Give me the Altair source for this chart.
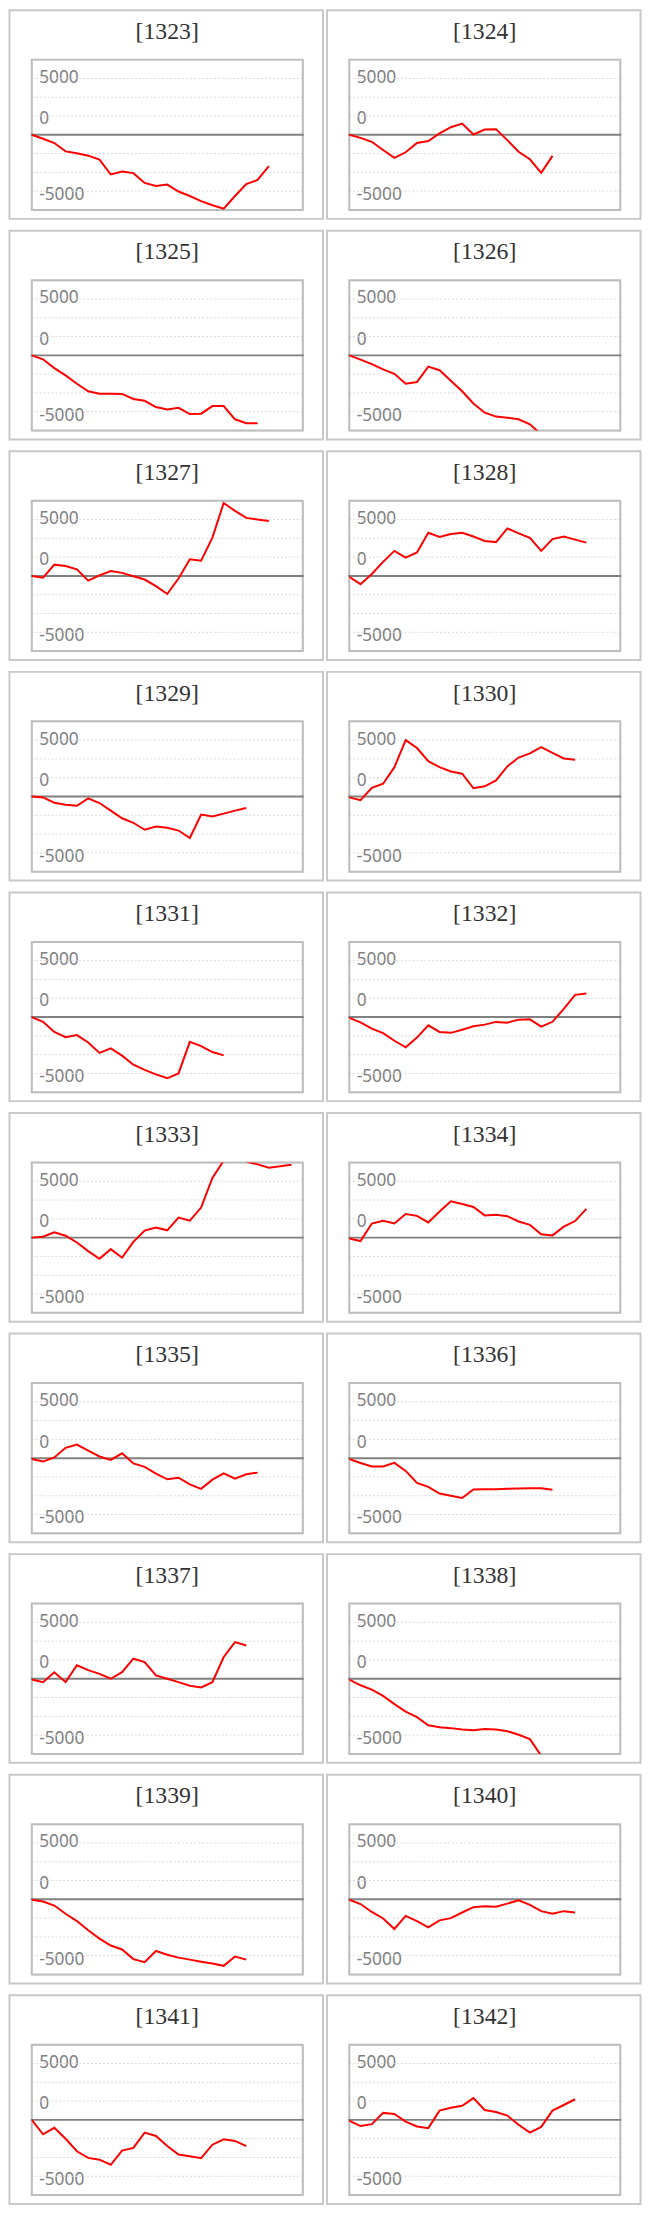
import altair as alt
import pandas as pd

# ---- data (daily P&L per code) ----
codes = ["1323", "1324", "1325", "1326", "1327", "1328", "1329", "1330", "1331", "1332",
         "1333", "1334", "1335", "1336", "1337", "1338", "1339", "1340", "1341", "1342"]

s1323 = [0, -350, -730, -1470, -1630, -1850, -2200, -3520, -3250, -3400, -4270, -4530, -4420,
         -5030, -5430, -5880, -6250, -6550, -5430, -4380, -4000, -2780]
s1324 = [0, -270, -620, -1350, -2050, -1550, -730, -550, 120, 670, 1000, 30, 470, 500, -470,
         -1500, -2170, -3380, -1870]
s1325 = [0, -350, -1130, -1780, -2520, -3180, -3400, -3400, -3420, -3870, -4030, -4580, -4800,
         -4650, -5200, -5170, -4500, -4500, -5670, -6020, -6020]
s1326 = [0, -380, -780, -1250, -1630, -2520, -2370, -1000, -1320, -2250, -3180, -4270, -5080,
         -5430, -5530, -5670, -6120, -7000]
s1327 = [0, -150, 1000, 880, 580, -420, 50, 430, 270, -30, -320, -900, -1600, -230, 1470, 1350,
         3400, 6470, 5770, 5150, 5000, 4880]
s1328 = [-80, -730, 170, 1250, 2220, 1630, 2080, 3830, 3450, 3720, 3830, 3500, 3100, 3000, 4220,
         3770, 3370, 2220, 3270, 3500, 3220, 2950]
s1329 = [0, -80, -550, -730, -820, -170, -580, -1250, -1930, -2330, -2950, -2670, -2780, -3020,
         -3680, -1600, -1780, -1520, -1250, -1020]
s1330 = [-80, -330, 770, 1130, 2600, 5000, 4300, 3130, 2600, 2220, 2020, 730, 900, 1430, 2670,
         3450, 3830, 4380, 3870, 3370, 3250]
s1331 = [0, -420, -1320, -1780, -1600, -2250, -3180, -2780, -3420, -4230, -4680, -5080, -5430,
         -5000, -2200, -2570, -3100, -3400]
s1332 = [-70, -470, -1020, -1430, -2100, -2680, -1820, -730, -1320, -1400, -1120, -820, -670,
         -430, -500, -230, -200, -850, -420, 730, 1970, 2080]
s1333 = [0, 80, 470, 170, -430, -1200, -1870, -1020, -1780, -380, 620, 900, 650, 1780, 1500,
         2670, 5300, 6830, 7500, 6750, 6500, 6200, 6330, 6470]
s1334 = [-70, -300, 1250, 1500, 1250, 2100, 1930, 1350, 2320, 3220, 2980, 2720, 1970, 2020, 1900,
         1430, 1130, 300, 200, 970, 1470, 2550]
s1335 = [-70, -300, 70, 920, 1200, 670, 150, -150, 430, -470, -770, -1370, -1870, -1730, -2330,
         -2720, -1900, -1350, -1820, -1430, -1280]
s1336 = [-70, -430, -730, -730, -420, -1130, -2200, -2550, -3130, -3330, -3530, -2780, -2750,
         -2750, -2720, -2680, -2670, -2670, -2800]
s1337 = [-70, -300, 580, -300, 1200, 770, 430, 0, 580, 1780, 1480, 300, 0, -300, -620, -770,
         -300, 1930, 3250, 2950]
s1338 = [-70, -580, -970, -1520, -2250, -2920, -3400, -4120, -4300, -4380, -4500, -4570, -4450,
         -4500, -4650, -4970, -5350, -6830]
s1339 = [-30, -200, -550, -1280, -1930, -2750, -3480, -4100, -4450, -5300, -5580, -4580, -4920,
         -5170, -5350, -5530, -5700, -5900, -5070, -5350]
s1340 = [-30, -420, -1120, -1700, -2630, -1470, -1930, -2480, -1870, -1670, -1170, -700, -620,
         -650, -380, -80, -500, -1050, -1280, -1050, -1170]
s1341 = [0, -1280, -700, -1670, -2780, -3370, -3530, -3980, -2720, -2480, -1130, -1430, -2320,
         -3070, -3220, -3400, -2200, -1730, -1870, -2330]
s1342 = [-70, -550, -380, 620, 530, -150, -580, -730, 820, 1080, 1250, 1930, 880, 700, 380, -430,
         -1120, -620, 820, 1320, 1830]

series_list = [s1323, s1324, s1325, s1326, s1327, s1328, s1329, s1330, s1331, s1332,
               s1333, s1334, s1335, s1336, s1337, s1338, s1339, s1340, s1341, s1342]

grid_values = [-5000, -3333.3, -1666.7, 1666.7, 3333.3, 5000]
label_positions = [5090, 1430, -5300]
label_texts = ["5000", "0", "-5000"]
y_domain = [-6666.7, 6666.7]
x_domain = [0, 24]

# ---- styling ----
PLOT_W, PLOT_H = 274, 152
RED = "#ff0000"

label_expr = "".join(
    f"abs(datum.value - ({p})) < 1 ? '{t}' : " for p, t in zip(label_positions, label_texts)
) + "''"

y_axis = alt.Axis(
    values=label_positions, labelExpr=label_expr, grid=False, domain=False, ticks=False,
    tickSize=0, labelAlign="left", labelBaseline="middle", labelPadding=-7,
    labelFont="Noto Sans", labelFontSize=17.5, labelColor="#808080", title=None,
    minExtent=0, labelOverlap=False,
)
y_scale = alt.Scale(domain=y_domain, nice=False, zero=False)
x_scale = alt.Scale(domain=x_domain, nice=False, zero=False)


def panel(code, vals):
    df = pd.DataFrame({"day": list(range(len(vals))), "pnl": vals})
    one = pd.DataFrame({"f": [0]})
    frame = alt.Chart(one).mark_rect(
        filled=False, color="#c8c8c8", strokeWidth=2, clip=False
    ).encode(x=alt.value(-22.5), x2=alt.value(294.5), y=alt.value(-50), y2=alt.value(161))
    title = alt.Chart(pd.DataFrame({"t": [f"[{code}]"]})).mark_text(
        font="Liberation Serif", fontSize=24, color="#333333", align="center",
        baseline="alphabetic", clip=False
    ).encode(text="t:N", x=alt.value(PLOT_W / 2), y=alt.value(-21))
    grid = alt.Chart(pd.DataFrame({"g": grid_values})).mark_rule(
        color="#d9d9d9", strokeWidth=1, strokeDash=[2, 2]
    ).encode(y=alt.Y("g:Q", scale=y_scale, axis=y_axis))
    border = alt.Chart(one).mark_rect(
        filled=False, color="#bdbdbd", strokeWidth=2, clip=False
    ).encode(x=alt.value(0), x2=alt.value(PLOT_W), y=alt.value(0), y2=alt.value(PLOT_H))
    zero = alt.Chart(pd.DataFrame({"z": [0]})).mark_rule(
        color="#808080", strokeWidth=2
    ).encode(y=alt.Y("z:Q", scale=y_scale, axis=y_axis), x=alt.value(-1), x2=alt.value(PLOT_W + 1))
    line = alt.Chart(df).mark_line(color=RED, strokeWidth=2, clip=True).encode(
        x=alt.X("day:Q", scale=x_scale, axis=None),
        y=alt.Y("pnl:Q", scale=y_scale, axis=y_axis),
    )
    return alt.layer(frame, title, grid, border, zero, line).properties(width=PLOT_W, height=PLOT_H)


panels = [panel(c, s) for c, s in zip(codes, series_list)]

chart = alt.concat(*panels, columns=2, spacing={"row": 8, "column": 1}).properties(
    padding={"top": -12, "left": 0, "right": 0, "bottom": 0}
).configure_view(stroke="transparent", fill="white").configure(background="white")

chart.save("out.html", embed_options={"renderer": "svg", "actions": False})
